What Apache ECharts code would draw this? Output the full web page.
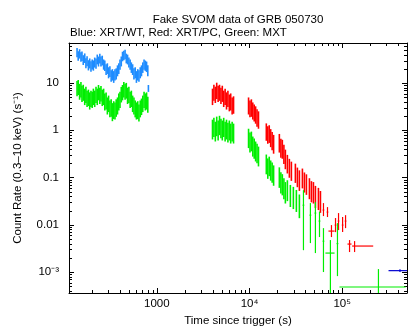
<!DOCTYPE html>
<html><head><meta charset="utf-8">
<script src="https://cdn.jsdelivr.net/npm/echarts@6/dist/echarts.min.js"></script>
<style>html,body{margin:0;padding:0;background:#fff}#c{width:416px;height:335px}</style>
</head><body><div id="c"></div>
<script>
// ---------- texts ----------
const titleText = 'Fake SVOM data of GRB 050730';
const subtitleText = 'Blue: XRT/WT, Red: XRT/PC, Green: MXT';
const xName = 'Time since trigger (s)';
const yName = 'Count Rate (0.3\u201310 keV) (s\u207b\u00b9)';
const xRange = [113, 5.0e5];
const yRange = [3.6e-4, 70.5];
const xTickLabels = { '3': '1000', '4': '10\u2074', '5': '10\u2075' };
const yTickLabels = { '-3': '10\u207b\u00b3', '-2': '0.01', '-1': '0.1', '0': '1', '1': '10' };

// ---------- data ----------
// dense points: [time (s), rate, 1-sigma error]
const wtBlue = [
  [138,45.0,10.0],[142,38.5,8.8],[147,42.5,9.5],[152,36.5,8.4],[156,38.0,8.6],[161,31.5,7.4],[167,34.5,7.9],
  [172,27.0,6.5],[177,29.8,7.0],[183,24.5,6.0],[189,26.8,6.4],[195,23.2,5.8],[201,25.5,6.2],[207,24.2,5.9],
  [214,28.0,6.7],[221,26.6,6.4],[228,32.5,7.6],[235,29.4,7.0],[243,34.0,7.9],[250,29.5,7.0],[258,30.8,7.2],
  [267,25.4,6.2],[275,24.0,5.9],[284,19.9,5.1],[293,20.9,5.3],[302,17.1,4.5],[312,18.0,4.6],[322,14.7,4.0],
  [332,15.5,4.2],[343,14.0,3.9],[354,15.5,4.2],[365,16.2,4.3],[377,18.8,4.9],[389,20.9,5.3],[401,25.4,6.2],
  [414,29.5,7.0],[427,37.5,8.6],[441,39.5,9.0],[455,41.5,9.4],[469,34.0,7.9],[484,32.4,7.6],[500,28.0,6.7],
  [516,25.4,6.2],[532,21.9,5.5],[549,19.9,5.1],[567,16.2,4.3],[585,17.1,4.5],[603,14.0,3.9],[623,15.5,4.2],
  [642,14.7,4.0],[663,17.1,4.5],[684,18.8,4.9],[706,21.9,5.5],[729,25.4,6.2],[752,24.0,5.9],[776,22.8,5.7],
  [800,18.8,4.9],[812,7.8,1.3]
];
const mxtEarly = [
  [138,8.15,2.9],[142,8.56,3.0],[147,7.04,2.6],[152,7.77,2.8],[156,6.39,2.4],[161,6.71,2.5],[167,5.52,2.1],
  [172,6.09,2.3],[177,5.01,1.9],[183,5.26,2.0],[189,4.55,1.8],[195,5.01,1.9],[201,4.77,1.8],[207,5.52,2.1],
  [214,5.01,1.9],[221,6.09,2.3],[228,5.52,2.1],[235,6.71,2.4],[243,5.80,2.2],[250,6.39,2.3],[258,5.26,2.0],
  [267,5.52,2.1],[275,4.33,1.7],[284,4.55,1.8],[293,3.56,1.4],[302,3.93,1.5],[312,3.08,1.2],[322,3.23,1.3],
  [332,2.66,1.1],[343,2.93,1.2],[354,2.79,1.1],[365,3.23,1.3],[377,3.56,1.4],[389,4.33,1.7],[401,4.77,1.8],
  [414,6.09,2.2],[427,6.71,2.4],[441,7.77,2.8],[455,7.04,2.6],[469,7.39,2.7],[484,5.80,2.2],[500,6.09,2.3],
  [516,4.77,1.8],[532,5.01,1.9],[549,3.93,1.5],[567,3.56,1.4],[585,3.08,1.2],[603,2.79,1.1],[623,2.93,1.2],
  [642,2.53,1.0],[663,3.08,1.2],[684,3.40,1.3],[706,3.93,1.5],[729,4.77,1.8],[752,4.33,1.7],[776,4.55,1.8],
  [800,3.74,1.4]
];
const pcRed = [
  [3990,5.52,2.1],[4130,6.71,2.5],[4280,6.09,2.3],[4430,7.39,2.8],[4590,6.39,2.4],[4750,6.71,2.5],[4920,5.80,2.2],
  [5090,6.39,2.4],[5270,5.01,1.9],[5460,5.52,2.1],[5650,4.55,1.8],[5850,5.01,1.9],[6060,4.12,1.6],[6270,4.33,1.7],
  [6500,3.56,1.4],[6730,3.74,1.5],
  [9770,3.56,1.4],[10120,3.08,1.2],[10480,3.23,1.3],[10850,2.79,1.1],[11240,2.53,1.0],[11640,2.30,0.92],
  [12060,1.99,0.8],[12500,1.80,0.72],
  [15190,1.00,0.40],[15750,0.869,0.35],[16330,0.911,0.37],[16930,0.750,0.31],[17550,0.649,0.27],[18200,0.560,0.24],
  [20990,0.588,0.25],[21800,0.461,0.2],[22600,0.440,0.19],[23500,0.344,0.15],[24380,0.270,0.12],
  [25620,0.212,0.09],[26920,0.174,0.075],[28300,0.151,0.066],[31260,0.137,0.06],[32860,0.1125,0.05],
  [34530,0.0971,0.045],[37220,0.107,0.048],[39120,0.0881,0.04],[41120,0.080,0.037],[44300,0.0658,0.031],
  [46560,0.0569,0.027],[48930,0.0542,0.026],[51420,0.0446,0.022],[55410,0.0405,0.02],[58240,0.0349,0.017]
];
const mxtLate = [
  [3990,1.16,0.52],[4130,1.28,0.56],[4280,1.05,0.47],[4430,1.35,0.6],[4590,1.11,0.5],[4750,1.41,0.62],
  [4920,1.22,0.54],[5090,1.11,0.5],[5270,1.28,0.56],[5460,1.05,0.47],[5650,1.16,0.52],[5850,1.00,0.45],
  [6060,1.11,0.5],[6270,0.955,0.43],[6500,1.05,0.47],[6730,0.955,0.43],
  [9770,0.750,0.33],[10120,0.618,0.28],[10480,0.649,0.29],[10850,0.508,0.23],[11240,0.461,0.21],
  [11640,0.399,0.18],[12060,0.362,0.16],[12500,0.312,0.14],
  [15190,0.212,0.095],[15750,0.174,0.08],[16330,0.192,0.085],[16930,0.158,0.072],[17550,0.143,0.065],[18200,0.124,0.057],
  [20990,0.1125,0.052],[21800,0.0881,0.042],[22600,0.080,0.038],[23500,0.0658,0.031],[24380,0.0542,0.026],
  [25620,0.0597,0.028],[27600,0.0468,0.023],[29730,0.0425,0.021],[32040,0.0367,0.018],[34530,0.0288,0.015]
];
// sparse points: [time, time low, time high, rate, rate low, rate high] (rate low 0 = below axis)
const pcRedSparse = [
  [62800,61500,64100,0.0205,0.0153,0.0288],[69400,68000,70800,0.0186,0.0146,0.0237],
  [76600,71100,82700,0.00736,0.0055,0.00986],[84700,83000,86400,0.00986,0.0070,0.0139],
  [91300,89500,93100,0.0120,0.00773,0.0177],[101000,99000,103000,0.00986,0.0070,0.0146],
  [108700,106500,110900,0.0120,0.0085,0.0160],[120000,114000,126000,0.00391,0.00265,0.00475],
  [136000,128000,216000,0.00355,0.00265,0.00452]
];
const mxtSparse = [
  [38200,37400,39000,0.026,0.0029,0.054],[45400,44400,46400,0.016,0.0041,0.0288],
  [51400,50300,52500,0.0177,0.00252,0.0302],[56900,55700,58100,0.012,0.0055,0.019],
  [62800,61500,64100,0.0045,0.001,0.0085],[74600,65900,82700,0.00252,0,0.00475],
  [88900,87000,90800,0.004,0.00082,0.01086],[246000,93400,483000,0.000482,0,0.001156]
];
const wtLate = [
  [420000,316000,600000,0.00107,0.00100,0.00114]
];

// ---------- build ----------
function fromDense(rows) {
  return rows.map(r => [r[0], r[1], r[1] - r[2], r[1] + r[2], r[0], r[0]]);
}
function fromSparse(rows) {
  return rows.map(r => [r[0], r[3], r[4], r[5], r[1], r[2]]);
}
function errRender(color, lw) {
  return function (params, api) {
    const cs = params.coordSys;
    const L = cs.x, R = cs.x + cs.width, T = cs.y, B = cs.y + cs.height;
    const cx = v => Math.max(L, Math.min(R, v));
    const cy = v => Math.max(T, Math.min(B, v));
    const t = api.value(0), r = api.value(1), lo = api.value(2), hi = api.value(3);
    const tl = api.value(4), th = api.value(5);
    const p = api.coord([t, r]);
    const yHi = api.coord([t, hi])[1];
    const yLo = lo > 0 ? api.coord([t, lo])[1] : B;
    const children = [];
    const x = p[0];
    if (x >= L - 0.5 && x <= R + 0.5) {
      children.push({ type: 'line', shape: { x1: x, y1: cy(yHi), x2: x, y2: cy(yLo) },
        style: { stroke: color, lineWidth: lw } });
    }
    if (th > tl && p[1] >= T && p[1] <= B) {
      const x1 = cx(api.coord([tl, r])[0]), x2 = cx(api.coord([th, r])[0]);
      children.push({ type: 'line', shape: { x1: x1, y1: p[1], x2: x2, y2: p[1] },
        style: { stroke: color, lineWidth: lw } });
    }
    return { type: 'group', children: children };
  };
}
function errSeries(data, color, lw) {
  return { type: 'custom', xAxisIndex: 0, yAxisIndex: 0, data: data, silent: true,
    encode: { x: 0, y: 1 }, renderItem: errRender(color, lw), animation: false };
}

// minor ticks (2..9 x 10^k)
const minorX = [], minorY = [];
for (let k = 1; k <= 6; k++) for (let m = 2; m <= 9; m++) {
  const v = m * Math.pow(10, k);
  if (v > xRange[0] && v < xRange[1]) minorX.push([v, 1]);
}
for (let k = -5; k <= 2; k++) for (let m = 2; m <= 9; m++) {
  const v = m * Math.pow(10, k);
  if (v > yRange[0] && v < yRange[1]) minorY.push([1000, v]);
}
const minorLen = 3;
function minorRender(isX) {
  return function (params, api) {
    const cs = params.coordSys;
    const L = cs.x, R = cs.x + cs.width, T = cs.y, B = cs.y + cs.height;
    const st = { stroke: '#000', lineWidth: 1 };
    if (isX) {
      const x = Math.round(api.coord([api.value(0), 1])[0]) + 0.5;
      return { type: 'group', children: [
        { type: 'line', shape: { x1: x, y1: B, x2: x, y2: B - minorLen }, style: st },
        { type: 'line', shape: { x1: x, y1: T, x2: x, y2: T + minorLen }, style: st }] };
    }
    const y = Math.round(api.coord([1000, api.value(1)])[1]) + 0.5;
    return { type: 'group', children: [
      { type: 'line', shape: { x1: L, y1: y, x2: L + minorLen, y2: y }, style: st },
      { type: 'line', shape: { x1: R, y1: y, x2: R - minorLen, y2: y }, style: st }] };
  };
}

const FONT = 'Liberation Sans, Arial, Helvetica, sans-serif';
const FS = 11.5;
function expKey(v) {
  const e = Math.log10(v), r = Math.round(e);
  return Math.abs(e - r) < 1e-6 ? String(r) : null;
}
const axisBase = {
  axisLine: { show: true, onZero: false, lineStyle: { color: '#000', width: 1 } },
  axisTick: { show: true, inside: true, length: 5, lineStyle: { color: '#000', width: 1 } },
  splitLine: { show: false }, minorTick: { show: false }
};

const chart = echarts.init(document.getElementById('c'), null, { renderer: 'canvas' });
chart.setOption({
  animation: false,
  backgroundColor: '#fff',
  grid: { left: 69, right: 9, top: 43, bottom: 42, containLabel: false, outerBoundsMode: 'none' },
  graphic: [
    { type: 'text', x: 238, y: 20, style: { text: titleText, fontFamily: FONT, fontSize: FS, fill: '#000', align: 'center', verticalAlign: 'middle' } },
    { type: 'text', x: 70, y: 33, style: { text: subtitleText, fontFamily: FONT, fontSize: FS, fill: '#000', align: 'left', verticalAlign: 'middle' } }
  ],
  xAxis: [
    Object.assign({}, axisBase, { type: 'log', logBase: 10, min: xRange[0], max: xRange[1], position: 'bottom',
      name: xName, nameLocation: 'middle', nameGap: 17,
      nameTextStyle: { fontFamily: FONT, fontSize: FS, color: '#000', verticalAlign: 'top' },
      axisLabel: { show: true, interval: 0, margin: 5, fontFamily: FONT, fontSize: FS, color: '#000',
        formatter: v => { const k = expKey(v); return k !== null && xTickLabels[k] ? xTickLabels[k] : ''; } } }),
    Object.assign({}, axisBase, { type: 'log', logBase: 10, min: xRange[0], max: xRange[1], position: 'top',
      axisLabel: { show: false } })
  ],
  yAxis: [
    Object.assign({}, axisBase, { type: 'log', logBase: 10, min: yRange[0], max: yRange[1], position: 'left',
      name: yName, nameLocation: 'middle', nameGap: 45, nameRotate: 90,
      nameTextStyle: { fontFamily: FONT, fontSize: FS, color: '#000' },
      axisLabel: { show: true, interval: 0, margin: 10, fontFamily: FONT, fontSize: FS, color: '#000',
        formatter: v => { const k = expKey(v); return k !== null && yTickLabels[k] ? yTickLabels[k] : ''; } } }),
    Object.assign({}, axisBase, { type: 'log', logBase: 10, min: yRange[0], max: yRange[1], position: 'right',
      axisLabel: { show: false } })
  ],
  series: [
    { type: 'custom', data: minorX, silent: true, encode: { x: 0, y: 1 }, renderItem: minorRender(true), animation: false },
    { type: 'custom', data: minorY, silent: true, encode: { x: 0, y: 1 }, renderItem: minorRender(false), animation: false },
    errSeries(fromDense(wtBlue), '#1e8cff', 1.6),
    errSeries(fromSparse(wtLate), '#0000d0', 1.2),
    errSeries(fromDense(pcRed), '#ff0000', 1.6),
    errSeries(fromSparse(pcRedSparse), '#ff0000', 1.2),
    errSeries(fromDense(mxtEarly), '#00ee00', 1.6),
    errSeries(fromDense(mxtLate), '#00ee00', 1.6),
    errSeries(fromSparse(mxtSparse), '#00ee00', 1.2)
  ]
});
</script></body></html>
